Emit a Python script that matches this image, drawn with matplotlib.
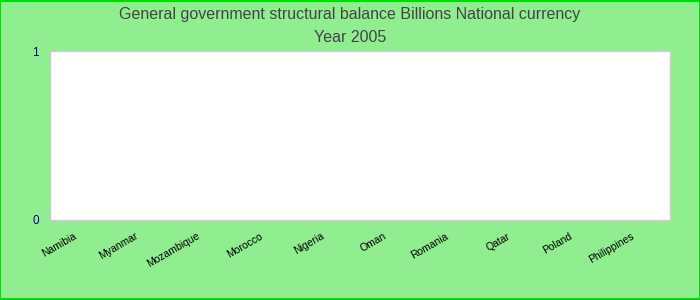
import matplotlib
matplotlib.use("Agg")
import matplotlib.pyplot as plt
import numpy as np

plt.rcParams['font.family'] = ['Liberation Sans', 'DejaVu Sans']

categories = ["Namibia", "Myanmar", "Mozambique", "Morocco", "Nigeria",
              "Oman", "Romania", "Qatar", "Poland", "Philippines"]
values = [np.nan] * 10
yticks = [0, 1]
title_lines = ["General government structural balance Billions National currency", "Year 2005"]

fig = plt.figure(figsize=(7, 3), dpi=100, facecolor="#90EE90")
ax = fig.add_axes([50/700, 1-220/300, 620/700, 169/300])
ax.set_facecolor("white")
x = np.arange(len(categories))
ax.bar(x, values, color="#4472C4")
ax.set_xlim(-0.5, len(categories)-0.5)
ax.set_ylim(0, 1)
ax.set_yticks(yticks)
ax.set_yticklabels([str(v) for v in yticks], color="#00008B", fontsize=8.5)
ax.set_xticks(x)
ax.set_xticklabels(categories, rotation=30, ha="right", va="top",
                   rotation_mode="anchor", fontsize=7.5, color="black")
ax.tick_params(axis="both", length=0)
ax.tick_params(axis="y", pad=8)
ax.tick_params(axis="x", pad=8)
offset = matplotlib.transforms.ScaledTranslation(-8/100, 0, fig.dpi_scale_trans)
for lbl in ax.get_xticklabels():
    lbl.set_transform(lbl.get_transform() + offset)
for s in ax.spines.values():
    s.set_color("#CCCCCC")
    s.set_linewidth(1)

fig.text(0.5, 1-14/300, title_lines[0], ha="center", va="center", fontsize=11.5, color="#444444")
fig.text(0.5, 1-37/300, title_lines[1], ha="center", va="center", fontsize=11.5, color="#444444")

border = plt.Rectangle((0.0007, 0.0017), 0.9986, 0.9966, transform=fig.transFigure,
                       fill=False, edgecolor="#00DD00", linewidth=1.5)
fig.patches.append(border)
fig.savefig("out.png", dpi=100, facecolor=fig.get_facecolor())
